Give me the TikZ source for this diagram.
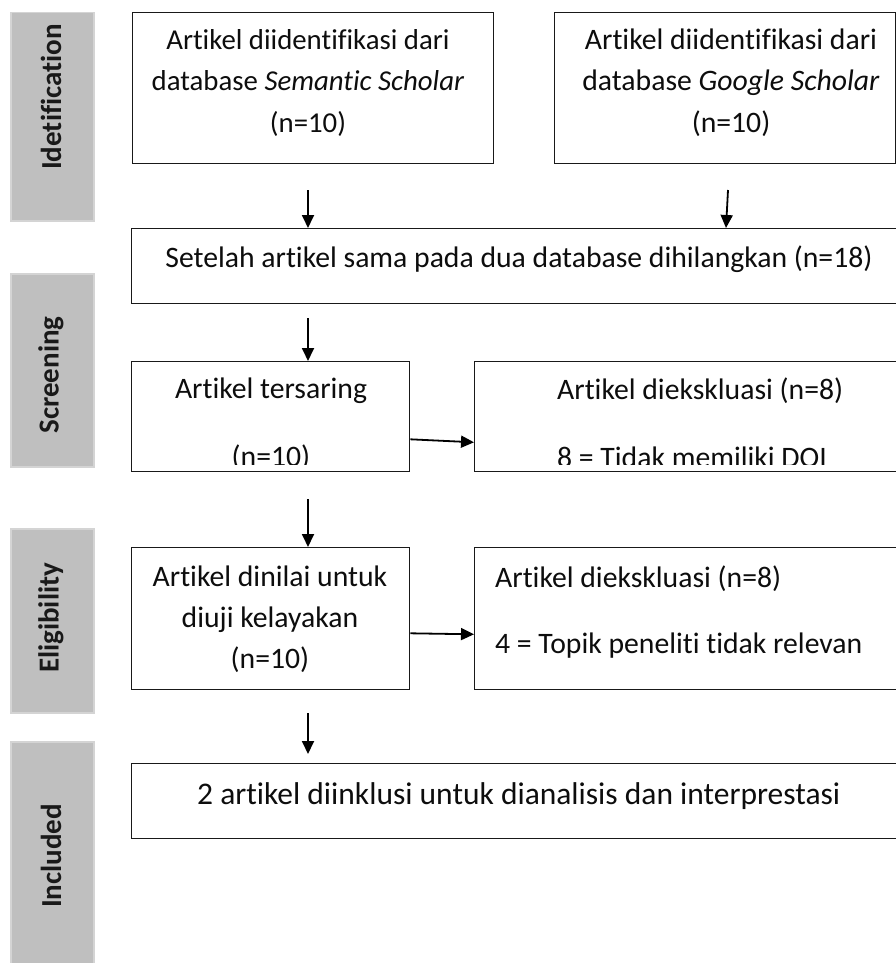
\documentclass[tikz,border=0pt]{standalone}
\usepackage{fontspec}
\setmainfont{Carlito}[Ligatures={NoCommon,NoRare,NoContextual},Contextuals={NoAlternate}]
\usetikzlibrary{arrows.meta,calc}
\definecolor{bandgrey}{HTML}{BFBFBF}
\definecolor{bandedge}{HTML}{D4D4D4}
\begin{document}
\begin{tikzpicture}[x=1pt,y=-1pt,
 box/.style={draw=black!90, line width=1.3pt, inner sep=0pt, anchor=north west},
 band/.style={fill=bandgrey, draw=bandedge, line width=1.5pt, inner sep=0pt, anchor=north west, minimum width=83pt},
 lab/.style={rotate=90, font=\fontsize{29}{34}\selectfont\bfseries, text=black!90, inner sep=0pt},
 txt/.style={font=\fontsize{29.7}{34}\selectfont, text=black!95, inner sep=0pt, anchor=base},
 txtl/.style={txt, anchor=base west},
 arr/.style={line width=1.8pt, -{Triangle[length=13pt,width=12pt]}}
]
\clip (0,0) rectangle (896,963);
\fill[white] (0,0) rectangle (896,963);

% side bands
\node[band, minimum height=208pt] (g1) at (10,12) {};
\node[band, minimum height=193pt] (g2) at (10,273) {};
\node[band, minimum height=184pt] (g3) at (10,528) {};
\node[band, minimum height=240pt] (g4) at (10,741) {};
\node[lab] (l1) at (51,97) {Idetification};
\node[lab] (l2) at (51,375) {Screening};
\node[lab] (l3) at (51,618) {Eligibility};
\node[lab] (l4) at (51,856) {Included};

% boxes
\node[box, minimum width=361pt, minimum height=151pt] (b1) at (132,12) {};
\node[box, minimum width=341pt, minimum height=151pt] (b2) at (554,12) {};
\node[box, minimum width=780pt, minimum height=75pt] (b3) at (131,228) {};
\node[box, minimum width=278pt, minimum height=110pt] (b4) at (131,361) {};
\node[box, minimum width=440pt, minimum height=110pt] (b5) at (474,361) {};
\node[box, minimum width=278pt, minimum height=142pt] (b6) at (131,547) {};
\node[box, minimum width=440pt, minimum height=142pt] (b7) at (474,547) {};
\node[box, minimum width=780pt, minimum height=75pt] (b8) at (131,763) {};

% texts
\node[txt, font=\fontsize{28.8}{34}\selectfont] (t1a) at (308,50) {Artikel diidentifikasi dari};
\node[txt, font=\fontsize{28.8}{34}\selectfont] (t1b) at (308,91) {database \textit{Semantic Scholar}};
\node[txt, font=\fontsize{28.8}{34}\selectfont] (t1c) at (308,132) {(n=10)};
\node[txt] (t2a) at (731,50) {Artikel diidentifikasi dari};
\node[txt] (t2b) at (731,91) {database \textit{Google Scholar}};
\node[txt] (t2c) at (731,132) {(n=10)};
\node[txt] (t3) at (519,267) {Setelah artikel sama pada dua database dihilangkan (n=18)};
\begin{scope}
\clip (b4.north west) rectangle ($(b4.south east)+(0,-8)$);
\node[txt] (t4a) at (271,398) {Artikel tersaring};
\node[txt] (t4b) at (271,466) {(n=10)};
\end{scope}
\begin{scope}
\clip (b5.north west) rectangle ($(b5.south east)+(0,-8)$);
\node[txtl] (t5a) at (557,399) {Artikel diekskluasi (n=8)};
\node[txtl] (t5b) at (557,467) {8 = Tidak memiliki DOI};
\end{scope}
\node[txt] (t6a) at (270,586) {Artikel dinilai untuk};
\node[txt] (t6b) at (270,627) {diuji kelayakan};
\node[txt] (t6c) at (270,668) {(n=10)};
\node[txtl] (t7a) at (495,587) {Artikel diekskluasi (n=8)};
\node[txtl] (t7b) at (495,653) {4 = Topik peneliti tidak relevan};
\node[txtl, font=\fontsize{31.5}{36}\selectfont] (t8) at (197,804) {2 artikel diinklusi untuk dianalisis dan interprestasi};

% arrows
\coordinate (s1) at (308,190);
\coordinate (s2) at (728,190);
\coordinate (s3) at (308,318);
\coordinate (s5) at (308,499);
\coordinate (s7) at (308,713);
\coordinate (e7) at (308,754);
\draw[arr] (s1) -- (s1 |- b3.north);
\draw[arr] (s2) -- ($(b3.north west)+(595,0)$);
\draw[arr] (s3) -- (s3 |- b4.north);
\draw[arr] ($(b4.south east)+(0,-33)$) -- ($(b5.south west)+(0,-30)$);
\draw[arr] (s5) -- (s5 |- b6.north);
\draw[arr] ($(b6.south east)+(0,-57)$) -- ($(b7.south west)+(0,-56)$);
\draw[arr] (s7) -- (e7);
\end{tikzpicture}
\end{document}
